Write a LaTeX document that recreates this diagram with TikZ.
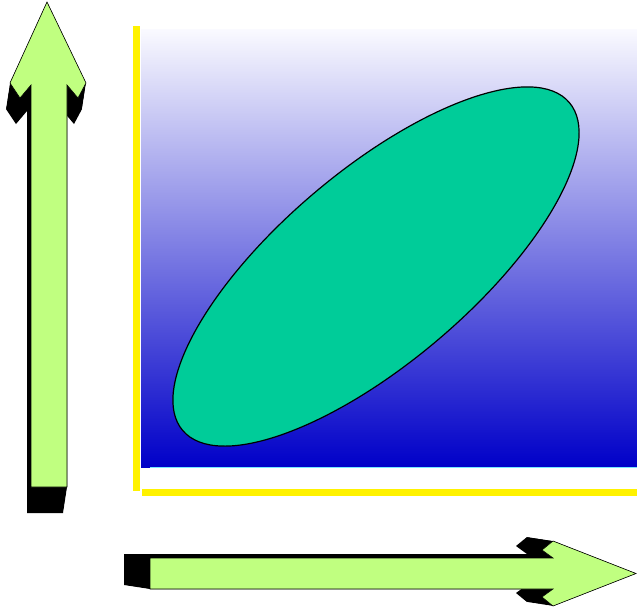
\documentclass[tikz,border=0pt]{standalone}
\usepackage{tikz}
\definecolor{argreen}{RGB}{192,255,128}
\definecolor{ellgreen}{RGB}{0,204,153}
\definecolor{topblue}{RGB}{250,250,255}
\definecolor{botblue}{RGB}{0,0,200}
\definecolor{edgecyan}{RGB}{120,230,255}
\tikzset{
  arrowbody/.style={fill=argreen, draw=black, line width=0.6pt, line join=miter},
  arrowshadow/.style={fill=black},
  yellowbar/.style={fill=yellow},
  blob/.style={fill=ellgreen, draw=black, line width=1.2pt}
}
\def\varrow{(47,2) -- (86,83) -- (78,98) -- (67,85) -- (67,487) -- (31,487) -- (31,85) -- (20,98) -- (10,83) -- cycle}
\def\harrow{(636,573.5) -- (553,606) -- (542,597) -- (553,589) -- (150,589) -- (150,558) -- (553,558) -- (542,550) -- (553,541) -- cycle}
\begin{document}
\begin{tikzpicture}[x=1pt,y=-1pt]
\useasboundingbox (0,0) rectangle (637,608);
% gradient panel
\shade[top color=topblue, bottom color=botblue] (141,29) rectangle (637,467);
\draw[edgecyan, line width=0.8pt] (150,467.3) -- (637,467.3);
% yellow axes bars
\fill[yellowbar] (133,26) rectangle (140,491);
\fill[yellowbar] (142,489) rectangle (637,496);
% ellipse
\draw[blob, rotate around={40.3:(376,266.5)}] (376,266.5) ellipse [x radius=253.5pt, y radius=96pt];
% vertical arrow with extruded shadow
\foreach \t in {0,0.05,...,1.01} {
  \fill[arrowshadow, shift={(-4*\t,26*\t)}] \varrow;
}
\path[arrowbody] \varrow;
% horizontal arrow with extruded shadow
\foreach \t in {0,0.05,...,1.01} {
  \fill[arrowshadow, shift={(-26*\t,-4*\t)}] \harrow;
}
\path[arrowbody] \harrow;
\end{tikzpicture}
\end{document}
